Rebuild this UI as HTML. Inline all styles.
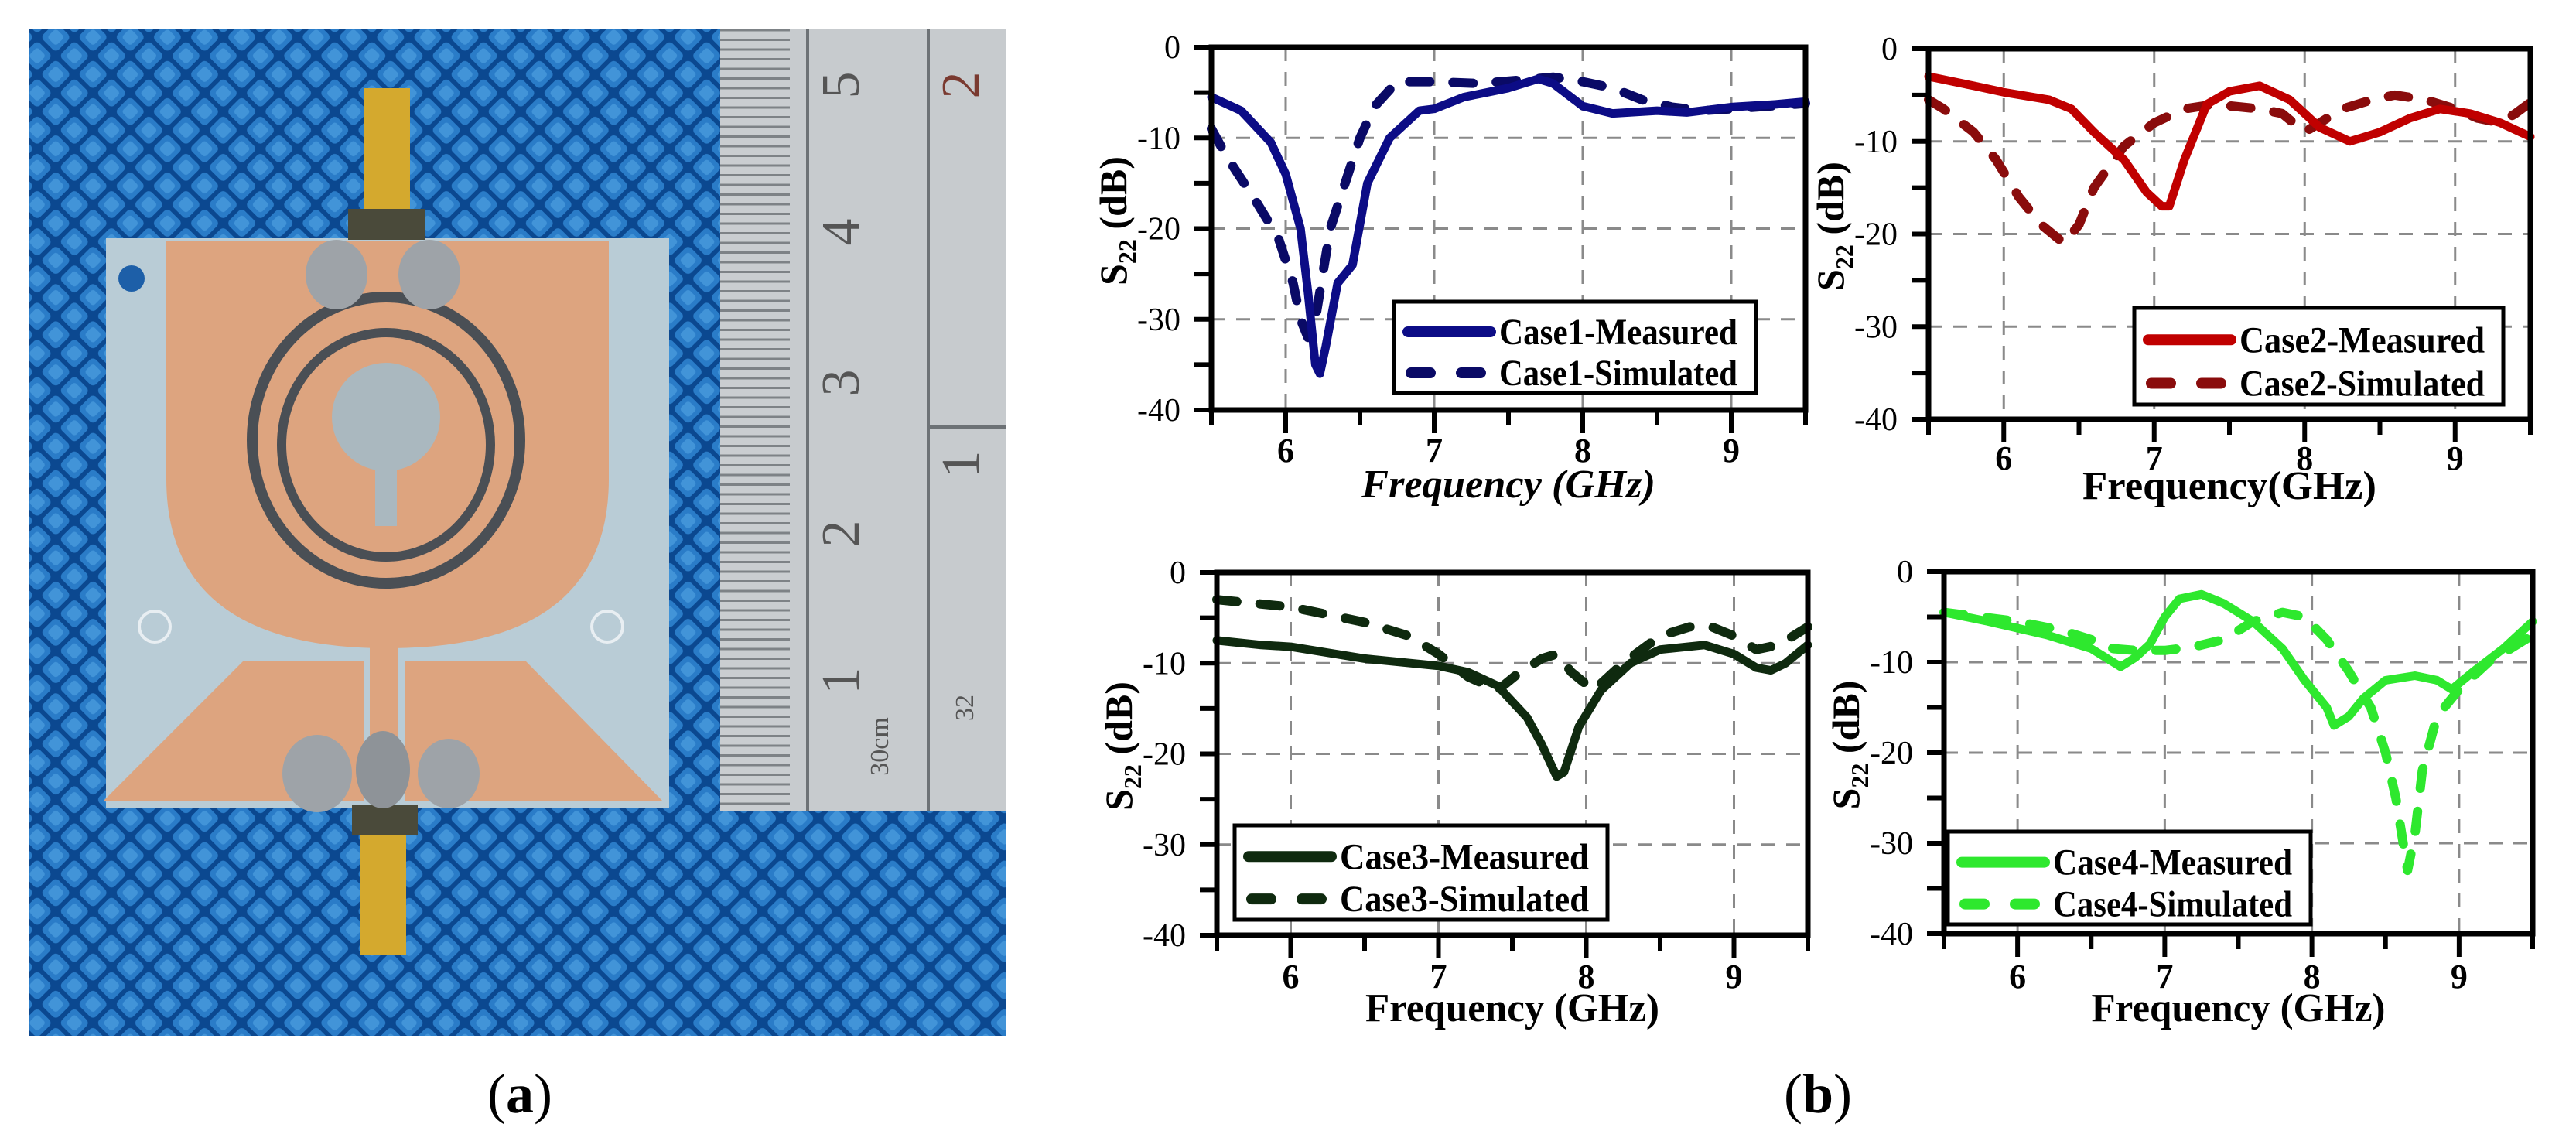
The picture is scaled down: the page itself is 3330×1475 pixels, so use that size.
<!DOCTYPE html>
<html><head><meta charset="utf-8"><title>S22 measured vs simulated</title>
<style>
html,body{margin:0;padding:0;background:#fff;}
svg{display:block;}
text{font-family:"Liberation Serif",serif;}
</style></head>
<body>
<svg id="fig" width="3330" height="1475" viewBox="0 0 3330 1475" xmlns="http://www.w3.org/2000/svg">
<defs>
<pattern id="weave" width="34" height="34" patternUnits="userSpaceOnUse" patternTransform="rotate(45)">
<rect width="34" height="34" fill="#0b4890"/>
<rect x="3" y="3" width="28" height="28" rx="6" fill="#2a7cc8"/>
<rect x="9" y="9" width="16" height="16" rx="4" fill="#4294d8"/>
</pattern>
<pattern id="rulerTicks" width="90" height="12.5" patternUnits="userSpaceOnUse">
<rect width="90" height="12.5" fill="#c9cdd0"/>
<rect x="0" y="0" width="90" height="3" fill="#7d8286"/>
</pattern>
</defs>

<!-- Photo (a) -->
<g>
<rect x="38" y="38" width="1263" height="1301" fill="url(#weave)"/>
<g>
<rect x="931" y="38" width="370" height="1011" fill="#c7cbce"/>
<rect x="931" y="38" width="90" height="1011" fill="url(#rulerTicks)"/>
<line x1="1044" y1="38" x2="1044" y2="1049" stroke="#6d7276" stroke-width="4"/>
<line x1="1200" y1="38" x2="1200" y2="1049" stroke="#6d7276" stroke-width="4"/>
<line x1="1200" y1="552" x2="1301" y2="552" stroke="#6d7276" stroke-width="4"/>
<text x="0" y="0" transform="translate(1110,110) rotate(-90)" font-family="Liberation Sans,sans-serif" font-size="70" fill="#555" text-anchor="middle">5</text>
<text x="0" y="0" transform="translate(1110,300) rotate(-90)" font-family="Liberation Sans,sans-serif" font-size="70" fill="#555" text-anchor="middle">4</text>
<text x="0" y="0" transform="translate(1110,495) rotate(-90)" font-family="Liberation Sans,sans-serif" font-size="70" fill="#555" text-anchor="middle">3</text>
<text x="0" y="0" transform="translate(1110,690) rotate(-90)" font-family="Liberation Sans,sans-serif" font-size="70" fill="#555" text-anchor="middle">2</text>
<text x="0" y="0" transform="translate(1110,880) rotate(-90)" font-family="Liberation Sans,sans-serif" font-size="70" fill="#555" text-anchor="middle">1</text>
<text x="0" y="0" transform="translate(1148,965) rotate(-90)" font-family="Liberation Sans,sans-serif" font-size="34" fill="#555" text-anchor="middle">30cm</text>
<text x="0" y="0" transform="translate(1265,110) rotate(-90)" font-family="Liberation Sans,sans-serif" font-size="70" fill="#7a3a30" text-anchor="middle">2</text>
<text x="0" y="0" transform="translate(1265,600) rotate(-90)" font-family="Liberation Sans,sans-serif" font-size="70" fill="#555" text-anchor="middle">1</text>
<text x="0" y="0" transform="translate(1258,915) rotate(-90)" font-family="Liberation Sans,sans-serif" font-size="34" fill="#555" text-anchor="middle">32</text>
</g>
<g>
<rect x="137" y="308" width="728" height="736" fill="#b9ccd6"/>
<path d="M215 312 H787 V619 Q787 838 501 838 Q215 838 215 619 Z" fill="#dda47f"/>
<path d="M314 855 H470 V1036 H133 Z" fill="#dda47f"/>
<path d="M524 855 H680 L857 1036 H524 Z" fill="#dda47f"/>
<rect x="478" y="830" width="37" height="206" fill="#dda47f"/>
<ellipse cx="499" cy="569" rx="173" ry="185" fill="none" stroke="#4a4f55" stroke-width="14"/>
<ellipse cx="499" cy="575" rx="135" ry="145" fill="none" stroke="#4a4f55" stroke-width="12"/>
<circle cx="499" cy="539" r="70" fill="#aab8bf"/>
<rect x="485" y="600" width="28" height="80" fill="#aab8bf"/>
<circle cx="170" cy="360" r="17" fill="#1d5fa8"/>
<circle cx="200" cy="810" r="20" fill="none" stroke="#e8eef2" stroke-width="4"/>
<circle cx="785" cy="810" r="20" fill="none" stroke="#e8eef2" stroke-width="4"/>
</g>
<g>
<rect x="470" y="114" width="60" height="170" fill="#d4a92e"/>
<rect x="450" y="270" width="100" height="40" fill="#4a4a3a"/>
<ellipse cx="435" cy="355" rx="40" ry="45" fill="#9ea3a8"/>
<ellipse cx="555" cy="355" rx="40" ry="45" fill="#9ea3a8"/>
<rect x="455" y="1040" width="85" height="40" fill="#4a4a3a"/>
<rect x="465" y="1080" width="60" height="155" fill="#d4a92e"/>
<ellipse cx="410" cy="1000" rx="45" ry="50" fill="#9ea3a8"/>
<ellipse cx="495" cy="995" rx="35" ry="50" fill="#8e9398"/>
<ellipse cx="580" cy="1000" rx="40" ry="45" fill="#9ea3a8"/>
</g>
</g>
<text x="672" y="1438" font-size="72" text-anchor="middle">(<tspan font-weight="bold">a</tspan>)</text>
<text x="2350" y="1438" font-size="72" text-anchor="middle">(<tspan font-weight="bold">b</tspan>)</text>

<g id="charts"></g>
</svg>

<script>
// ---------- data ----------
const xTicks = [6, 7, 8, 9];
const yTicks = [0, -10, -20, -30, -40];
const legendNames = ["Case1", "Case2", "Case3", "Case4"];

const c1MeasF = [5.5,5.7,5.9,6.0,6.1,6.15,6.2,6.23,6.27,6.35,6.45,6.55,6.7,6.9,7.0,7.2,7.5,7.7,7.8,8.0,8.2,8.5,8.7,9.0,9.3,9.5];
const c1MeasS = [-5.5,-7,-10.5,-14,-20,-27,-35,-36,-33,-26,-24,-15,-10,-7,-6.8,-5.5,-4.5,-3.5,-4,-6.5,-7.3,-7,-7.2,-6.6,-6.3,-6];
const c1SimF  = [5.5,5.6,5.8,5.95,6.05,6.1,6.15,6.2,6.25,6.3,6.4,6.5,6.6,6.75,7.0,7.3,7.6,7.8,8.0,8.2,8.4,8.6,8.8,9.0,9.5];
const c1SimS  = [-9,-12,-17,-21,-26,-30,-32,-30,-25,-20,-15,-10,-6.5,-3.8,-3.8,-4,-3.6,-3.3,-3.8,-4.5,-5.8,-6.6,-7,-6.8,-6.2];

const c2MeasF = [5.5,5.8,6.0,6.3,6.45,6.6,6.8,6.95,7.05,7.1,7.2,7.35,7.5,7.7,7.9,8.0,8.1,8.3,8.5,8.7,8.9,9.1,9.3,9.5];
const c2MeasS = [-3,-4,-4.7,-5.5,-6.5,-9,-12,-15.5,-17,-17,-12,-6,-4.6,-4,-5.5,-7,-8.5,-10,-9,-7.5,-6.5,-7,-8,-9.5];
const c2SimF  = [5.5,5.6,5.8,5.95,6.1,6.25,6.4,6.5,6.6,6.8,7.0,7.2,7.4,7.7,7.85,8.0,8.1,8.25,8.45,8.6,8.8,9.0,9.15,9.3,9.4,9.5];
const c2SimS  = [-5.5,-6.5,-9,-12,-16,-19,-21,-19,-15,-10.5,-8,-6.5,-6,-6.5,-7,-9,-8,-6.5,-5.5,-5,-5.5,-6.5,-7.5,-8,-7,-5.8];

const c3MeasF = [5.5,5.8,6.0,6.5,7.0,7.2,7.4,7.6,7.7,7.8,7.85,7.95,8.1,8.3,8.5,8.8,9.0,9.15,9.25,9.35,9.5];
const c3MeasS = [-7.5,-8,-8.2,-9.5,-10.3,-11,-12.5,-16,-19,-22.5,-22,-17,-13,-10,-8.5,-8,-9,-10.5,-10.8,-10,-8];
const c3SimF  = [5.5,6.0,6.5,6.8,7.0,7.2,7.4,7.55,7.7,7.8,7.9,8.05,8.25,8.5,8.7,8.85,9.0,9.15,9.3,9.5];
const c3SimS  = [-3,-3.8,-5.5,-7,-9,-11.5,-13,-11,-9.5,-9,-11,-13,-10,-7,-6,-6,-7,-8.5,-8,-6];

const c4MeasF = [5.5,5.8,6.2,6.5,6.7,6.8,6.9,7.0,7.1,7.25,7.4,7.6,7.8,7.95,8.1,8.15,8.25,8.35,8.5,8.7,8.85,8.95,9.1,9.3,9.5];
const c4MeasS = [-4.5,-5.5,-7,-8.5,-10.5,-9.5,-8,-5,-3,-2.5,-3.5,-5.5,-8.5,-12,-15,-17,-16,-14,-12,-11.5,-12,-13,-11,-8.5,-5.5];
const c4SimF  = [5.5,6.0,6.3,6.5,6.65,6.8,7.0,7.2,7.4,7.6,7.8,7.95,8.1,8.25,8.4,8.5,8.57,8.62,8.65,8.7,8.75,8.85,9.0,9.2,9.5];
const c4SimS  = [-4.5,-5.5,-6.5,-7.5,-8.5,-8.7,-8.7,-8.3,-7.5,-5.5,-4.5,-5,-7.5,-11,-15,-20,-25,-30,-33,-29,-22,-16,-13,-10,-7];

// ---------- layout ----------
const panels = [
  {id:"case1", x0:1566, x1:2334, y0:61, y1:530, meas:[c1MeasF,c1MeasS], sim:[c1SimF,c1SimS], cm:"#0c0c86", cs:"#0a0a66",
   leg:[1802,390,2270,508], title:"Frequency (GHz)", titleStyle:"italic", tb:643, lb:597},
  {id:"case2", x0:2493, x1:3271, y0:63, y1:542, meas:[c2MeasF,c2MeasS], sim:[c2SimF,c2SimS], cm:"#c00000", cs:"#8a0c0c",
   leg:[2759,398,3236,523], title:"Frequency(GHz)", titleStyle:"normal", tb:645, lb:607},
  {id:"case3", x0:1573, x1:2337, y0:740, y1:1209, meas:[c3MeasF,c3MeasS], sim:[c3SimF,c3SimS], cm:"#0f2a0f", cs:"#0f2a0f",
   leg:[1596,1067,2078,1189], title:"Frequency (GHz)", titleStyle:"normal", tb:1320, lb:1277},
  {id:"case4", x0:2513, x1:3274, y0:739, y1:1207, meas:[c4MeasF,c4MeasS], sim:[c4SimF,c4SimS], cm:"#2ee82e", cs:"#2ee82e",
   leg:[2518,1075,2987,1195], title:"Frequency (GHz)", titleStyle:"normal", tb:1320, lb:1277}
];

const NS = "http://www.w3.org/2000/svg";
const root = document.getElementById("charts");
function mk(tag, attrs, parent){
  const e = document.createElementNS(NS, tag);
  for (const k in attrs) e.setAttribute(k, attrs[k]);
  parent.appendChild(e);
  return e;
}

panels.forEach((p, idx) => {
  const g = mk("g", {}, root);
  
  
  const xs = f => p.x0 + (f - 5.5) / 4 * (p.x1 - p.x0);
  const ys = v => p.y0 + (0 - v) / 40 * (p.y1 - p.y0);

  xTicks.forEach(t => {
    const l = mk("line", {x1:xs(t), x2:xs(t), y1:p.y0, y2:p.y1, stroke:"#8a8a8a", "stroke-width":3, "stroke-dasharray":"18 14"}, g);
    
    
  });
  yTicks.slice(1,4).forEach(t => {
    const l = mk("line", {x1:p.x0, x2:p.x1, y1:ys(t), y2:ys(t), stroke:"#8a8a8a", "stroke-width":3, "stroke-dasharray":"18 14"}, g);
    
    
  });

  const path = (F, S) => F.map((f, i) => (i ? "L" : "M") + xs(f).toFixed(1) + " " + ys(S[i]).toFixed(1)).join(" ");
  const sim = mk("path", {d:path(p.sim[0], p.sim[1]), fill:"none", stroke:p.cs, "stroke-width":12, "stroke-dasharray":"26 30", "stroke-linecap":"round", "stroke-linejoin":"round"}, g);
  
  
  const meas = mk("path", {d:path(p.meas[0], p.meas[1]), fill:"none", stroke:p.cm, "stroke-width":11, "stroke-linecap":"round", "stroke-linejoin":"round"}, g);
  
  

  const fr = mk("rect", {x:p.x0, y:p.y0, width:p.x1-p.x0, height:p.y1-p.y0, fill:"none", stroke:"#000", "stroke-width":7}, g);
  
  

  for (let v = 0; v >= -40; v -= 5) {
    const t = mk("line", {x1:p.x0-22, x2:p.x0, y1:ys(v), y2:ys(v), stroke:"#000", "stroke-width":6}, g);
    
    
  }
  yTicks.forEach(v => {
    const t = mk("text", {x:p.x0-40, y:ys(v)+14, "font-size":42, "text-anchor":"end"}, g);
    t.textContent = String(v);
    
    
  });
  for (let f = 5.5; f <= 9.51; f += 0.5) {
    const major = Math.abs(f - Math.round(f)) < 0.01;
    const t = mk("line", {x1:xs(f), x2:xs(f), y1:p.y1, y2:p.y1+(major?30:20), stroke:"#000", "stroke-width":6}, g);
    
    
  }
  xTicks.forEach(f => {
    const t = mk("text", {x:xs(f), y:p.lb, "font-size":44, "font-weight":"bold", "text-anchor":"middle"}, g);
    t.textContent = String(f);
    
    
  });

  const xt = mk("text", {x:(p.x0+p.x1)/2, y:p.tb, "font-size":52, "font-weight":"bold", "font-style":p.titleStyle, "text-anchor":"middle", textLength:380, lengthAdjust:"spacingAndGlyphs"}, g);
  xt.textContent = p.title;
  
  

  const cy = (p.y0 + p.y1) / 2 - 10;
  const yt = mk("text", {x:0, y:0, transform:"translate(" + (p.x0-110) + "," + cy + ") rotate(-90)", "font-size":50, "font-weight":"bold", "text-anchor":"middle"}, g);
  yt.innerHTML = 'S<tspan font-size="32" dy="12">22</tspan><tspan dy="-12"> (dB)</tspan>';
  
  

  const [lx0, ly0, lx1, ly1] = p.leg;
  const lg = mk("g", {}, g);
  
  
  mk("rect", {x:lx0, y:ly0, width:lx1-lx0, height:ly1-ly0, fill:"#fff", stroke:"#000", "stroke-width":5}, lg);
  const r1 = ly0 + (ly1-ly0)*0.33, r2 = ly0 + (ly1-ly0)*0.78;
  const sw1 = mk("line", {x1:lx0+18, x2:lx0+125, y1:r1, y2:r1, stroke:p.cm, "stroke-width":14, "stroke-linecap":"round"}, lg);
  
  
  const sw2 = mk("line", {x1:lx0+22, x2:lx0+112, y1:r2, y2:r2, stroke:p.cs, "stroke-width":14, "stroke-linecap":"round", "stroke-dasharray":"25 40"}, lg);
  
  
  const tw = lx1 - lx0 - 160;
  const t1 = mk("text", {x:lx0+136, y:r1+16, "font-size":48, "font-weight":"bold", textLength:tw, lengthAdjust:"spacingAndGlyphs"}, lg);
  t1.textContent = legendNames[idx] + "-Measured";
  
  
  const t2 = mk("text", {x:lx0+136, y:r2+16, "font-size":48, "font-weight":"bold", textLength:tw, lengthAdjust:"spacingAndGlyphs"}, lg);
  t2.textContent = legendNames[idx] + "-Simulated";
  
  
});
</script>
</body></html>
